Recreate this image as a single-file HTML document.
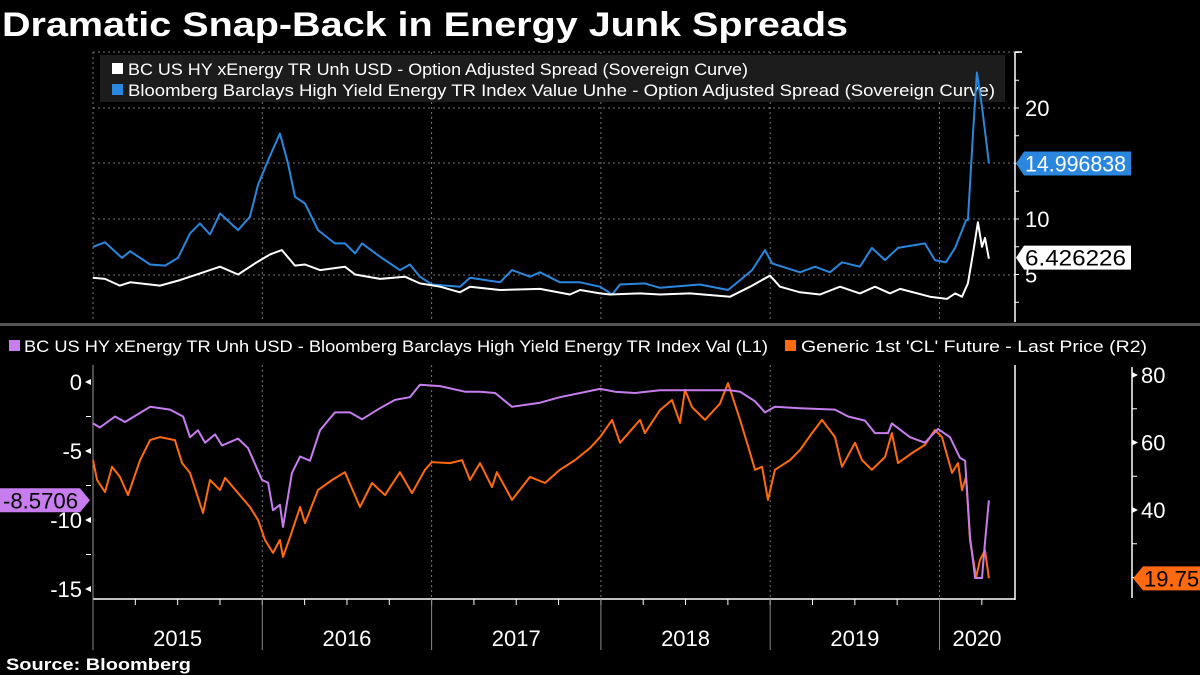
<!DOCTYPE html>
<html><head><meta charset="utf-8">
<style>
html,body{margin:0;padding:0;background:#000;}
body{width:1200px;height:675px;overflow:hidden;position:relative;font-family:"Liberation Sans",sans-serif;}
svg{position:absolute;left:0;top:0;}
</style></head>
<body>
<svg id="chart" width="1200" height="675" viewBox="0 0 1200 675">
<text x="2" y="36" fill="#fff" font-size="34" font-weight="bold" textLength="846" lengthAdjust="spacingAndGlyphs" font-family="Liberation Sans, sans-serif">Dramatic Snap-Back in Energy Junk Spreads</text>
<text x="6" y="670" fill="#fff" font-size="17" font-weight="bold" textLength="185" lengthAdjust="spacingAndGlyphs" font-family="Liberation Sans, sans-serif">Source:  Bloomberg</text>
</svg>
<script>
// ---- data (years since 2015, values) ----
const BASE_YEAR = 2015;
const yearLabels = ['2015','2016','2017','2018','2019','2020'];
const topTicks = [5,10,20];
const leftTicks = [0,-5,-10,-15];
const rightTicks = [40,60,80];

const blueT = [0,.071,.171,.219,.337,.425,.502,.573,.632,.691,.750,.857,.927,.975,1.034,1.104,1.152,1.193,1.252,1.329,1.429,1.488,1.548,1.589,1.695,1.813,1.872,1.931,2.002,2.168,2.227,2.404,2.475,2.581,2.640,2.758,2.877,2.995,3.066,3.113,3.260,3.349,3.585,3.751,3.822,3.893,3.969,4.011,4.176,4.265,4.353,4.424,4.530,4.601,4.678,4.755,4.914,4.973,5.038,5.092,5.157,5.168,5.198,5.221,5.251,5.275,5.292];
const blueV = [7.5,7.9,6.5,7.1,5.9,5.8,6.5,8.7,9.6,8.6,10.5,9.0,10.2,13.1,15.3,17.7,15.0,12.0,11.4,9.0,7.8,7.8,6.9,7.8,6.6,5.4,5.9,4.8,4.1,3.9,4.7,4.3,5.4,4.8,5.2,4.3,4.3,3.9,3.2,4.1,4.2,3.8,4.1,3.6,4.5,5.4,7.2,6.0,5.2,5.7,5.2,6.1,5.7,7.4,6.3,7.4,7.8,6.3,6.1,7.4,9.9,9.9,17.7,23.2,20.1,17.1,14.996838];

const whiteT = [0,.071,.159,.219,.396,.514,.632,.750,.857,.957,1.045,1.116,1.193,1.252,1.341,1.488,1.548,1.695,1.843,1.931,2.050,2.168,2.227,2.404,2.640,2.817,2.877,2.995,3.054,3.231,3.349,3.526,3.763,3.881,3.999,4.058,4.176,4.294,4.412,4.530,4.619,4.708,4.767,4.944,5.044,5.092,5.133,5.168,5.198,5.227,5.251,5.269,5.292];
const whiteV = [4.7,4.6,4.0,4.3,4.0,4.5,5.1,5.7,5.0,6.0,6.8,7.2,5.8,5.9,5.4,5.7,5.0,4.6,4.8,4.2,3.9,3.4,3.9,3.6,3.7,3.2,3.6,3.3,3.2,3.3,3.2,3.3,3.0,3.9,4.9,3.9,3.4,3.2,3.9,3.3,3.9,3.3,3.7,3.0,2.8,3.3,3.0,4.2,6.9,9.7,7.5,8.3,6.426226];

const purpleT = [0,.041,.130,.189,.337,.455,.532,.573,.620,.662,.721,.762,.857,.916,.998,1.034,1.063,1.104,1.122,1.175,1.223,1.282,1.341,1.429,1.518,1.589,1.695,1.784,1.872,1.931,2.050,2.197,2.286,2.375,2.475,2.640,2.758,2.995,3.083,3.201,3.349,3.526,3.763,3.822,3.910,3.969,4.028,4.176,4.383,4.460,4.560,4.619,4.696,4.719,4.826,4.914,4.991,5.062,5.121,5.151,5.180,5.210,5.251,5.269,5.292];
const purpleV = [-3.0,-3.3,-2.5,-2.9,-1.8,-2.0,-2.5,-4.0,-3.5,-4.4,-3.8,-4.6,-4.1,-4.8,-7.1,-7.3,-9.3,-8.9,-10.5,-6.6,-5.4,-5.7,-3.5,-2.2,-2.2,-2.7,-1.9,-1.3,-1.1,-0.2,-0.3,-0.7,-0.7,-0.8,-1.8,-1.5,-1.1,-0.5,-0.7,-0.8,-0.6,-0.6,-0.6,-0.7,-1.4,-2.2,-1.8,-1.9,-2.0,-2.5,-2.8,-3.7,-3.7,-3.0,-4.0,-4.4,-3.4,-4.0,-5.5,-5.7,-11.2,-14.2,-14.2,-11.6,-8.5706];

const orangeT = [0,.024,.071,.112,.159,.207,.278,.337,.396,.484,.526,.573,.650,.691,.750,.780,.857,.927,.975,1.016,1.063,1.104,1.122,1.164,1.223,1.252,1.329,1.412,1.488,1.577,1.648,1.725,1.813,1.884,1.961,2.002,2.109,2.180,2.227,2.286,2.357,2.386,2.475,2.581,2.670,2.758,2.847,2.936,2.995,3.066,3.113,3.231,3.260,3.349,3.420,3.467,3.497,3.538,3.615,3.703,3.751,3.822,3.881,3.910,3.952,3.987,4.028,4.117,4.176,4.247,4.306,4.383,4.424,4.501,4.542,4.601,4.678,4.719,4.755,4.838,4.914,4.973,5.015,5.074,5.109,5.133,5.157,5.180,5.216,5.239,5.269,5.292];
const orangeV = [54.8,48.9,45.3,52.8,49.8,44.4,54.8,60.7,61.6,60.7,53.9,51.0,39.1,48.9,45.9,49.5,45.0,40.9,37.0,31.1,27.3,31.1,26.1,32.0,40.9,36.1,45.9,48.9,51.2,40.9,48.0,44.4,51.2,45.0,51.9,54.2,53.9,54.8,48.9,53.9,46.8,51.2,43.0,49.8,48.0,51.9,54.8,58.4,61.6,66.7,59.9,66.7,62.8,69.6,72.6,65.8,75.6,70.5,66.7,71.5,77.6,66.7,56.9,51.9,52.8,43.0,51.9,54.8,57.8,62.8,66.7,61.6,52.8,59.9,54.8,51.9,55.7,62.8,53.9,56.9,59.3,63.7,61.6,51.0,53.9,45.9,49.8,31.1,20.1,25.2,28.1,19.75];

// ---- scales ----
const X0 = 93, PX_PER_YEAR = 169.3;
const xS = t => X0 + t * PX_PER_YEAR;
const yTop = v => 330 - 11.1 * v;
const yLeft = v => 382 - 13.8 * v;
const yRight = v => 375 + (80 - v) * 3.375;

const svg = document.getElementById('chart');
const NS = 'http://www.w3.org/2000/svg';
function mk(tag, attrs, parent) {
  const e = document.createElementNS(NS, tag);
  for (const k in attrs) e.setAttribute(k, attrs[k]);
  (parent || svg).appendChild(e);
  return e;
}
const FONT = 'Liberation Sans, sans-serif';

// ---- top panel ----
const topG = mk('g', {});


[52,108,163,219,275].forEach(y => {
  const l = mk('line', {x1: 93, x2: 1015, y1: y, y2: y, stroke: '#777', 'stroke-width': 1, 'stroke-dasharray': '2,3'}, topG);
  
  
});
for (let i = 0; i < yearLabels.length; i++) {
  const x = xS(i);
  const l = mk('line', {x1: x, x2: x, y1: 52, y2: 322, stroke: '#777', 'stroke-width': 1, 'stroke-dasharray': '2,3'}, topG);
  
  
}
const ta = mk('line', {x1: 1015, x2: 1015, y1: 52, y2: 322, stroke: '#fff', 'stroke-width': 1.5}, topG);


mk('line', {x1: 1015, x2: 1022, y1: 52, y2: 52, stroke: '#fff', 'stroke-width': 1.5}, topG);
for (let v = 2.5; v <= 25; v += 2.5) {
  mk('line', {x1: 1015, x2: 1019, y1: yTop(v), y2: yTop(v), stroke: '#fff', 'stroke-width': 1}, topG);
}
topTicks.forEach(v => {
  const t = mk('text', {x: 1025, y: yTop(v) + 8, fill: '#fff', 'font-size': 22, 'font-family': FONT}, topG);
  t.textContent = v;
  
  
});
const lg = mk('rect', {x: 100, y: 55, width: 905, height: 47, fill: '#1c1c1c'}, topG);


mk('rect', {x: 112, y: 63, width: 11, height: 11, fill: '#fff'}, topG);
mk('rect', {x: 112, y: 84, width: 11, height: 11, fill: '#2b87dd'}, topG);
const lt1 = mk('text', {x: 128, y: 75, fill: '#fff', 'font-size': 17, 'font-family': FONT, textLength: 620, lengthAdjust: 'spacingAndGlyphs'}, topG);
lt1.textContent = 'BC US HY xEnergy TR Unh USD - Option Adjusted Spread (Sovereign Curve)';


const lt2 = mk('text', {x: 128, y: 96, fill: '#fff', 'font-size': 17, 'font-family': FONT, textLength: 867, lengthAdjust: 'spacingAndGlyphs'}, topG);
lt2.textContent = 'Bloomberg Barclays High Yield Energy TR Index Value Unhe - Option Adjusted Spread (Sovereign Curve)';



function path(T, V, yf, color, parent, w) {
  let d = '';
  for (let i = 0; i < T.length; i++) d += (i ? 'L' : 'M') + xS(T[i]).toFixed(1) + ',' + yf(V[i]).toFixed(1);
  return mk('path', {d: d, fill: 'none', stroke: color, 'stroke-width': w || 2, 'stroke-linejoin': 'round'}, parent);
}
const pb = path(blueT, blueV, yTop, '#2b87dd', topG);


const pw = path(whiteT, whiteV, yTop, '#ffffff', topG);



function tagLeft(x, y, w, text, bg, fg, name) {
  const g = mk('g', {});
  
  
  mk('path', {d: `M${x},${y} L${x+8},${y-12} L${x+w},${y-12} L${x+w},${y+12} L${x+8},${y+12} Z`, fill: bg}, g);
  const t = mk('text', {x: x + 9, y: y + 8, fill: fg, 'font-size': 22, 'font-family': FONT, textLength: w - 14, lengthAdjust: 'spacingAndGlyphs'}, g);
  t.textContent = text;
}
tagLeft(1016, yTop(blueV[blueV.length - 1]), 115, blueV[blueV.length - 1].toFixed(6), '#2b87dd', '#fff', 'energy-oas-last-value');
tagLeft(1016, yTop(whiteV[whiteV.length - 1]) - 1, 115, whiteV[whiteV.length - 1].toFixed(6), '#fff', '#000', 'xenergy-oas-last-value');

const sep = mk('rect', {x: 0, y: 323, width: 1200, height: 3, fill: '#555'});



// ---- bottom panel ----
const bg = mk('g', {});


mk('rect', {x: 9, y: 340, width: 11, height: 11, fill: '#c77dee'}, bg);
const bl1 = mk('text', {x: 24, y: 352, fill: '#fff', 'font-size': 17, 'font-family': FONT, textLength: 744, lengthAdjust: 'spacingAndGlyphs'}, bg);
bl1.textContent = 'BC US HY xEnergy TR Unh USD - Bloomberg Barclays High Yield Energy TR Index Val (L1)';


mk('rect', {x: 785, y: 340, width: 11, height: 11, fill: '#ff6a10'}, bg);
const bl2 = mk('text', {x: 801, y: 352, fill: '#fff', 'font-size': 17, 'font-family': FONT, textLength: 346, lengthAdjust: 'spacingAndGlyphs'}, bg);
bl2.textContent = "Generic 1st 'CL' Future - Last Price (R2)";



for (let i = 1; i < yearLabels.length; i++) {
  const x = xS(i);
  mk('line', {x1: x, x2: x, y1: 365, y2: 599, stroke: '#777', 'stroke-width': 1, 'stroke-dasharray': '2,3'}, bg);
}
mk('line', {x1: 93, x2: 93, y1: 365, y2: 600, stroke: '#999', 'stroke-width': 1}, bg);
mk('line', {x1: 1015, x2: 1015, y1: 365, y2: 600, stroke: '#fff', 'stroke-width': 1.5}, bg);
const xa = mk('line', {x1: 93, x2: 1015, y1: 599, y2: 599, stroke: '#fff', 'stroke-width': 1.5}, bg);


for (let q = 0; q < 22; q++) {
  const x = xS(q / 4);
  if (x > 1015) break;
  mk('line', {x1: x, x2: x, y1: 599, y2: 605, stroke: '#fff', 'stroke-width': 1}, bg);
}
for (let i = 0; i < yearLabels.length; i++) {
  const x = xS(i);
  mk('line', {x1: x, x2: x, y1: 599, y2: 650, stroke: '#888', 'stroke-width': 1}, bg);
  const cx = i < yearLabels.length - 1 ? x + PX_PER_YEAR / 2 : 977;
  const t = mk('text', {x: cx, y: 646, fill: '#fff', 'font-size': 22, 'text-anchor': 'middle', 'font-family': FONT}, bg);
  t.textContent = yearLabels[i];
  
  
}
for (let v = 0; v >= -15; v -= 2.5) {
  mk('line', {x1: 86, x2: 91, y1: yLeft(v), y2: yLeft(v), stroke: '#fff', 'stroke-width': 1}, bg);
}
leftTicks.forEach(v => {
  mk('path', {d: `M85,${yLeft(v)} l6,-3 l0,6 z`, fill: '#fff'}, bg);
  const t = mk('text', {x: 82, y: yLeft(v) + 8, fill: '#fff', 'font-size': 22, 'text-anchor': 'end', 'font-family': FONT}, bg);
  t.textContent = v === 0 ? '0' : '-' + Math.abs(v);
  
  
});
mk('line', {x1: 1132, x2: 1132, y1: 367, y2: 598, stroke: '#fff', 'stroke-width': 1.5}, bg);
for (let v = 20; v <= 80; v += 10) {
  mk('line', {x1: 1132, x2: 1137, y1: yRight(v), y2: yRight(v), stroke: '#fff', 'stroke-width': 1}, bg);
}
rightTicks.forEach(v => {
  mk('path', {d: `M1138,${yRight(v)} l-6,-3 l0,6 z`, fill: '#fff'}, bg);
  const t = mk('text', {x: 1141, y: yRight(v) + 8, fill: '#fff', 'font-size': 22, 'font-family': FONT}, bg);
  t.textContent = v;
  
  
});
const po = path(orangeT, orangeV, yRight, '#ff6a10', bg, 2);


const pp = path(purpleT, purpleV, yLeft, '#c77dee', bg, 2);



(function () {
  const v = purpleV[purpleV.length - 1], y = yLeft(v);
  const g = mk('g', {});
  
  
  mk('path', {d: `M0,${y-12} L80,${y-12} L90,${y} L80,${y+12} L0,${y+12} Z`, fill: '#c77dee'}, g);
  const t = mk('text', {x: 3, y: y + 8, fill: '#000', 'font-size': 22, 'font-family': FONT, textLength: 75, lengthAdjust: 'spacingAndGlyphs'}, g);
  t.textContent = v.toFixed(4);
})();
(function () {
  const v = orangeV[orangeV.length - 1], y = yRight(v);
  const g = mk('g', {});
  
  
  mk('path', {d: `M1133,${y} L1143,${y-12} L1200,${y-12} L1200,${y+12} L1143,${y+12} Z`, fill: '#ff6a10'}, g);
  const t = mk('text', {x: 1144, y: y + 8, fill: '#000', 'font-size': 22, 'font-family': FONT}, g);
  t.textContent = v.toFixed(2);
})();
</script>
</body></html>
